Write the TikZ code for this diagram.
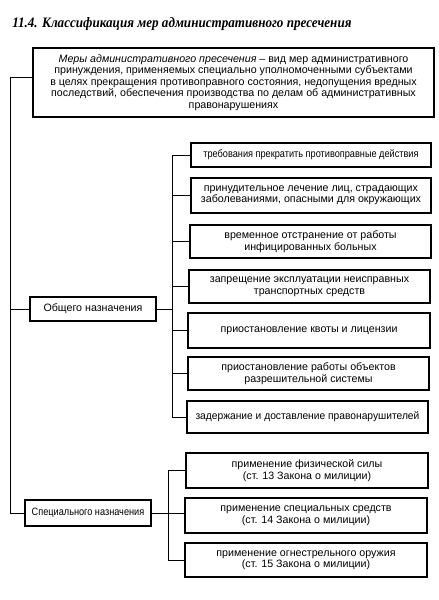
\documentclass[tikz,border=0pt]{standalone}
\usepackage{fontspec}
\usetikzlibrary{calc}
\setmainfont{Liberation Serif}
\setsansfont{Liberation Sans}
\begin{document}
\begin{tikzpicture}[x=0.75pt,y=-0.75pt,
  box/.style={draw,line width=0.8pt,align=center,inner sep=0pt,
    font=\sffamily\fontsize{8}{8.6}\selectfont},
  conn/.style={line width=0.7pt}]
\useasboundingbox (0,0) rectangle (439,600);
\newcommand\mybox[6]{%
  \pgfmathsetmacro\mbcx{(#2+#4)/2}\pgfmathsetmacro\mbcy{(#3+#5)/2}%
  \pgfmathsetmacro\mbww{(#4-#2)*0.75}\pgfmathsetmacro\mbhh{(#5-#3)*0.75}%
  \node[box,minimum width=\mbww pt,minimum height=\mbhh pt] (#1) at (\mbcx,\mbcy) {#6};}
% title
\node[anchor=base west,inner sep=0pt,font=\bfseries\itshape\fontsize{10.8}{13}\selectfont] (title) at (12,27)
  {\scalebox{0.91}[1]{11.4. Классификация мер административного пресечения}};
% top box
\mybox{top}{33}{48}{434}{117}{\textit{Меры административного пресечения} – вид мер административного\\
принуждения, применяемых специально уполномоченными субъектами\\
в целях прекращения противоправного состояния, недопущения вредных\\
последствий, обеспечения производства по делам об административных\\
правонарушениях}
% group boxes
\mybox{gen}{30}{297}{156}{321}{Общего назначения}
\mybox{spec}{25}{500}{151}{526}{\scalebox{0.86}[1]{Специального назначения}}
% general measures
\mybox{b1}{191}{143}{431}{167}{\scalebox{0.86}[1]{требования прекратить противоправные действия}}
\mybox{b2}{191}{178}{431}{213}{принудительное лечение лиц, страдающих\\заболеваниями, опасными для окружающих}
\mybox{b3}{190}{225}{431}{258}{временное отстранение от работы\\инфицированных больных}
\mybox{b4}{189}{270}{430}{303}{запрещение эксплуатации неисправных\\транспортных средств}
\mybox{b5}{188}{313}{430}{348}{приостановление квоты и лицензии}
\mybox{b6}{188}{357}{429}{390}{приостановление работы объектов\\разрешительной системы}
\mybox{b7}{187}{401}{428}{433}{\scalebox{0.96}[1]{задержание и доставление правонарушителей}}
% special measures
\mybox{s1}{186}{453}{428}{488}{применение физической силы\\(ст. 13 Закона о милиции)}
\mybox{s2}{185}{498}{427}{533}{применение специальных средств\\(ст. 14 Закона о милиции)}
\mybox{s3}{185}{543}{427}{577}{применение огнестрельного оружия\\(ст. 15 Закона о милиции)}
% connectors
\coordinate (spine) at (10,0);
\coordinate (g) at (172,0);
\coordinate (s) at (168,0);
\coordinate (topin) at ($(top.north west)!0.43!(top.south west)$);
\draw[conn] (topin) -- (topin -| spine) |- (gen.west);
\draw[conn] (gen.west -| spine) |- (spec.west);
\draw[conn] (gen.east) -- (gen.east -| g);
\draw[conn] (b1.west) -- (b1.west -| g) -- (b7.west -| g) -- (b7.west);
\foreach \b in {b2,b3,b4,b5,b6}{\draw[conn] (\b.west -| g) -- (\b.west);}
\draw[conn] (spec.east) -- (spec.east -| s2.west);
\draw[conn] (s1.west) -- (s1.west -| s) -- (s3.west -| s) -- (s3.west);
\end{tikzpicture}
\end{document}
